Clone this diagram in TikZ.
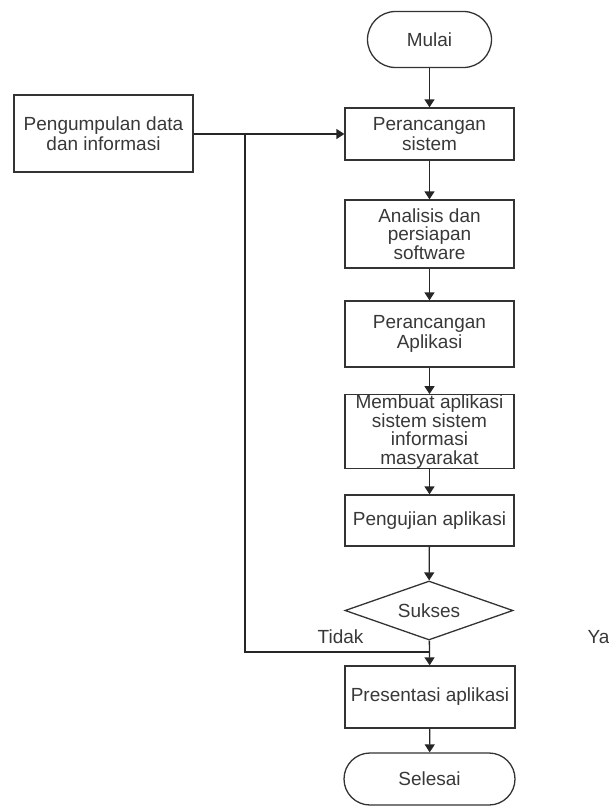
\documentclass[tikz,border=0pt]{standalone}
\usepackage{fontspec}
\setmainfont{Liberation Sans}
\usetikzlibrary{shapes.geometric,arrows.meta}
\begin{document}
\begin{tikzpicture}[x=1pt,y=-1pt,
  every node/.style={font=\fontsize{19}{18.6}\selectfont, text=black!78, inner sep=0pt},
  box/.style={draw=black!80, line width=1.3pt, align=center, minimum width=169pt},
  term/.style={draw=black!80, line width=1.3pt, rounded corners=26pt, align=center},
  dec/.style={draw=black!80, line width=1.3pt, diamond, aspect=2.85, minimum width=168pt, minimum height=59pt, inner sep=0pt},
  flow/.style={draw=black!85, line width=1.3pt, -{Triangle[length=8pt,width=10pt]}},
  line/.style={draw=black!85, line width=1.3pt}]
\useasboundingbox (0,0) rectangle (608,806);
\node[term, minimum width=124pt, minimum height=56pt, rounded corners=28pt] (mulai) at (429.5,39.5) {Mulai};
\node[box, minimum height=52pt, font=\fontsize{19}{20}\selectfont] (ps) at (429.5,134) {Perancangan\\sistem};
\node[box, minimum width=179pt, minimum height=77pt, font=\fontsize{19}{20}\selectfont] (pd) at (103.5,133.5) {Pengumpulan data\\dan informasi};
\node[box, minimum height=68pt] (an) at (429.5,234) {Analisis dan\\persiapan\\software};
\node[box, minimum height=66pt, font=\fontsize{19}{20}\selectfont] (pa) at (429.5,334) {Perancangan\\Aplikasi};
\node[box, minimum height=73pt] (mb) at (429.5,431.5) {Membuat aplikasi\\sistem sistem\\informasi\\masyarakat};
\node[box, minimum height=51pt] (pu) at (429.5,520.5) {Pengujian aplikasi};
\node[dec] (suk) at (429,610.5) {Sukses};
\node[box, minimum width=170pt, minimum height=62pt] (pr) at (430,697) {Presentasi aplikasi};
\node[term, minimum width=171pt, minimum height=52pt] (sel) at (429.5,779) {Selesai};
\node (tidak) at (340.5,637) {Tidak};
\node (ya) at (598.5,637) {Ya};
\coordinate (j1) at (245,133.5);
\coordinate (j2) at (245,652);
\coordinate (j3) at (429,652);
\draw[flow] (mulai) -- (ps);
\draw[flow] (pd.east |- ps.west) -- (ps.west);
\draw[flow] (ps) -- (an);
\draw[flow] (an) -- (pa);
\draw[flow] (pa) -- (mb);
\draw[flow] (mb) -- (pu);
\draw[flow] (pu) -- (suk);
\draw[flow] (suk) -- (pr);
\draw[flow] (pr) -- (sel);
\draw[line] (j1) -- (j2) -- (j3);
\end{tikzpicture}
\end{document}
